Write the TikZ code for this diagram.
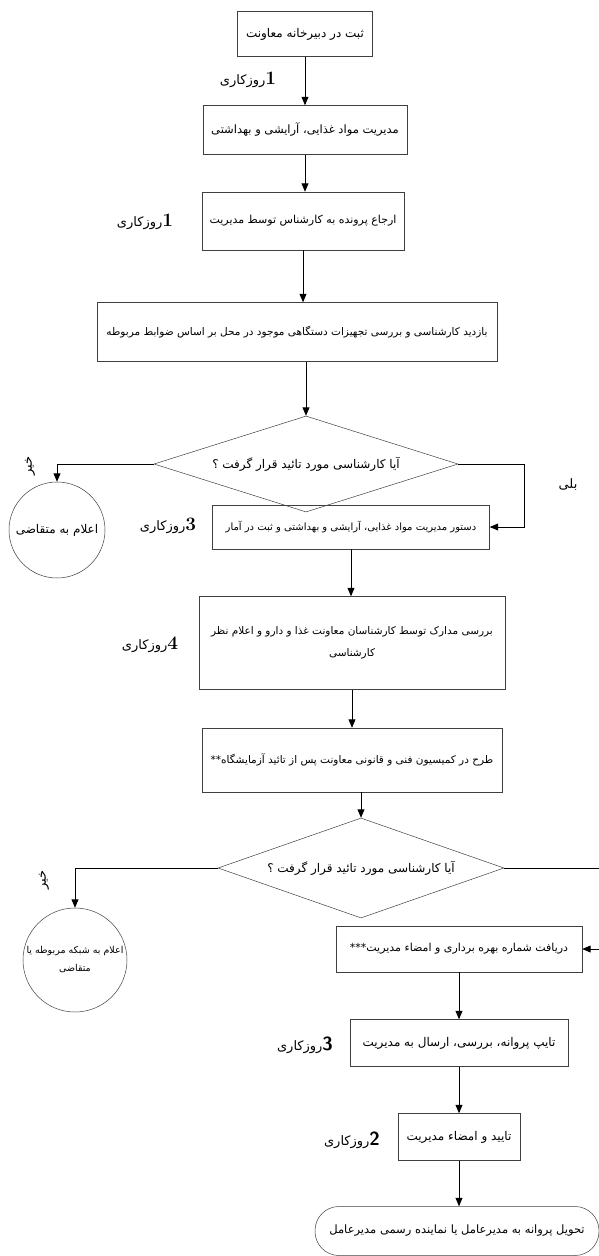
\documentclass[tikz,border=0pt]{standalone}
\usepackage{fontspec}
\newfontfamily\parsi[Script=Arabic]{DejaVu Sans}
\TeXXeTstate=1
\newcommand{\fatxt}[1]{{\parsi\beginR #1\endR}}
\newcommand{\delai}[2]{\fatxt{روزکاری}{\fontsize{19}{20}\selectfont #1#2}}
\usetikzlibrary{arrows}
\usetikzlibrary{shapes.geometric}

\begin{document}
\begin{tikzpicture}[x=1pt,y=-1pt]
	\tikzstyle{boite}=[rectangle,draw=black!75,line width=0.5pt,inner sep=2pt,align=center,font=\fontsize{12}{19}\selectfont]
	\tikzstyle{losange}=[diamond,draw=black!75,line width=0.5pt,inner sep=0pt,aspect=3,font=\fontsize{12}{14}\selectfont]
	\tikzstyle{rond}=[circle,draw=black!75,line width=0.5pt,inner sep=0pt,align=center,font=\fontsize{12}{19}\selectfont]
	\tikzstyle{fin}=[rectangle,rounded corners=24pt,draw=black!75,line width=0.5pt,font=\fontsize{11.5}{14}\selectfont]
	\tikzstyle{jour}=[font=\fontsize{13}{15}\selectfont]
	\tikzstyle{fleche}=[-triangle 45,line width=0.9pt]
	\useasboundingbox (0,0) rectangle (599,1256);
	% boites du haut
	\node[boite,minimum width=135pt,minimum height=45pt] (b1) at (305,34) {\fatxt{ثبت در دبیرخانه معاونت}};
	\node[boite,minimum width=204pt,minimum height=49pt,font=\fontsize{11.5}{13}\selectfont] (b2) at (305,130) {\fatxt{مدیریت مواد غذایی، آرایشی و بهداشتی}};
	\node[boite,minimum width=202pt,minimum height=58pt,font=\fontsize{11}{13}\selectfont] (b3) at (303,221) {\fatxt{ارجاع پرونده به کارشناس توسط مدیریت}};
	\node[boite,minimum width=400pt,minimum height=59pt,font=\fontsize{10.5}{13}\selectfont] (b4) at (297,332) {\fatxt{بازدید کارشناسی و بررسی تجهیزات دستگاهی موجود در محل بر اساس ضوابط مربوطه}};
	\node[losange,minimum width=304pt,minimum height=96pt] (d1) at (306,464) {\fatxt{آیا کارشناسی مورد تائید قرار گرفت ؟}};
	\node[rond,minimum size=96pt] (c1) at (57,530) {\fatxt{اعلام به متقاضی}};
	\node[boite,minimum width=277pt,minimum height=44pt,font=\fontsize{10}{13}\selectfont] (b5) at (351,527) {\fatxt{دستور مدیریت مواد غذایی، آرایشی و بهداشتی و ثبت در آمار}};
	\node[boite,minimum width=306pt,minimum height=93pt,font=\fontsize{10.5}{22}\selectfont] (b6) at (352,643) {\fatxt{بررسی مدارک توسط کارشناسان معاونت غذا و دارو و اعلام نظر}\\\fatxt{کارشناسی}};
	\node[boite,minimum width=300pt,minimum height=64pt,font=\fontsize{10.5}{13}\selectfont] (b7) at (352,760) {\fatxt{طرح در کمیسیون فنی و قانونی معاونت پس از تائید آزمایشگاه**}};
	% deuxieme decision
	\node[losange,minimum width=286pt,minimum height=100pt] (d2) at (361,868) {\fatxt{آیا کارشناسی مورد تائید قرار گرفت ؟}};
	\node[rond,minimum size=104pt,font=\fontsize{9.5}{18}\selectfont] (c2) at (75,960) {\fatxt{اعلام به شبکه مربوطه یا}\\\fatxt{متقاضی}};
	\node[boite,minimum width=246pt,minimum height=46pt,font=\fontsize{11}{13}\selectfont] (b8) at (459,949) {\fatxt{دریافت شماره بهره برداری و امضاء مدیریت***}};
	\node[boite,minimum width=218pt,minimum height=47pt] (b9) at (459,1043) {\fatxt{تایپ پروانه، بررسی، ارسال به مدیریت}};
	\node[boite,minimum width=122pt,minimum height=47pt] (b10) at (459,1137) {\fatxt{تایید و امضاء مدیریت}};
	\node[fin,minimum width=284pt,minimum height=49pt] (t) at (457,1231) {\fatxt{تحویل پروانه به مدیرعامل یا نماینده رسمی مدیرعامل}};
	% delais et reponses
	\node[jour] (j1) at (248,80) {\delai{\bfseries}{1}};
	\node[jour] (j2) at (145,222) {\delai{\bfseries}{1}};
	\node[jour] (j3) at (168,526) {\delai{\bfseries}{3}};
	\node[jour] (j4) at (150,645) {\delai{\bfseries}{4}};
	\node[jour] (j5) at (305,1045) {\delai{\sffamily\bfseries}{3}};
	\node[jour] (j6) at (352,1140) {\delai{\sffamily\bfseries}{2}};
	\node[jour,rotate=90] (n1) at (30,466) {\fatxt{خیر}};
	\node[jour,rotate=90] (n2) at (44,880) {\fatxt{خیر}};
	\node[jour] (o1) at (568,485) {\fatxt{بلی}};
	\coordinate (coinA) at (524,527);
	\coordinate (bordD) at (599,868);
	\coordinate (bordB) at (599,949);
	% fleches
	\draw[fleche] (b1.south) -- (b1.south |- b2.north);
	\draw[fleche] (b2.south) -- (b2.south |- b3.north);
	\draw[fleche] (b3.south) -- (b3.south |- b4.north);
	\draw[fleche] (d1.north |- b4.south) -- (d1.north);
	\draw[fleche] (d1.west) -| (c1.north);
	\draw[fleche] (d1.east) -| (coinA) -- (b5.east);
	\draw[fleche] (b5.south) -- (b5.south |- b6.north);
	\draw[fleche] (b6.south) -- (b6.south |- b7.north);
	\draw[fleche] (d2.north |- b7.south) -- (d2.north);
	\draw[fleche] (d2.west) -| (c2.north);
	\draw[line width=0.9pt] (d2.east) -- (bordD);
	\draw[fleche] (bordB) -- (b8.east);
	\draw[fleche] (b8.south) -- (b8.south |- b9.north);
	\draw[fleche] (b9.south) -- (b9.south |- b10.north);
	\draw[fleche] (b10.south) -- (b10.south |- t.north);
\end{tikzpicture}
\end{document}
